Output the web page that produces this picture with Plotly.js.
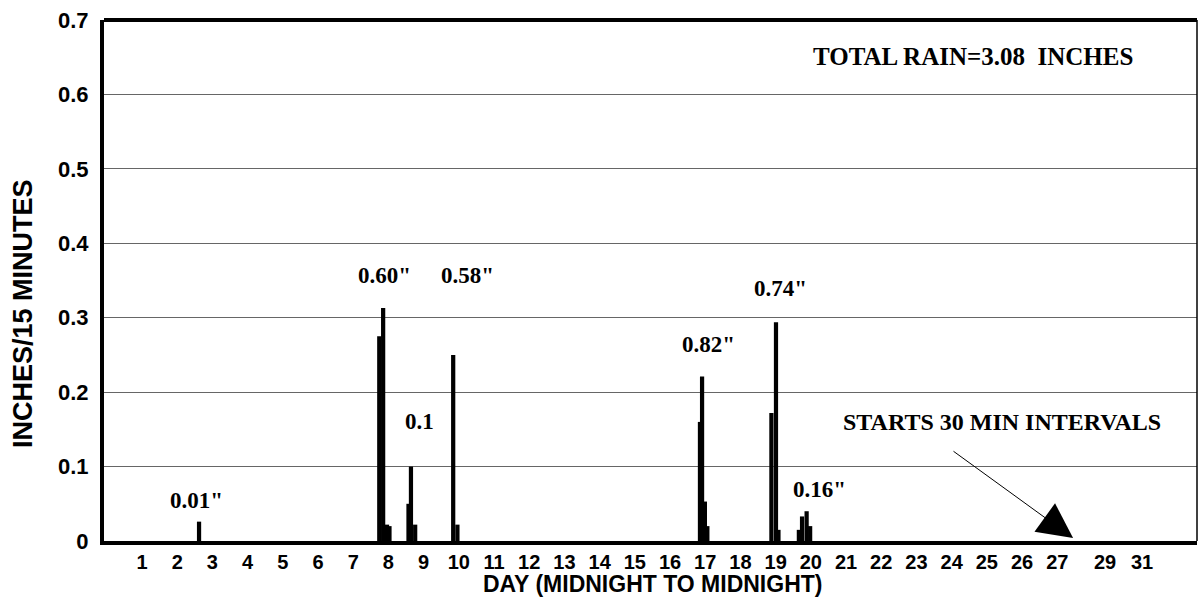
<!DOCTYPE html>
<html>
<head>
<meta charset="utf-8">
<script src="https://cdn.plot.ly/plotly-3.0.1.min.js"></script>
<style>html,body{margin:0;padding:0;background:#fff;}#chart{width:1201px;height:602px;}</style>
</head>
<body>
<div id="chart"></div>
<script>
// 15-minute rainfall readings (day of month position, inches per 15 minutes)
const barDays   = [2.62, 7.74, 7.85, 7.96, 8.03, 8.57, 8.64, 8.76, 9.84, 9.96, 16.85, 16.91, 16.99, 17.06, 18.88, 19.01, 19.08, 19.66, 19.75, 19.88, 19.98];
const barInches = [0.026, 0.275, 0.313, 0.022, 0.020, 0.050, 0.100, 0.022, 0.250, 0.022, 0.160, 0.221, 0.053, 0.020, 0.172, 0.294, 0.015, 0.015, 0.033, 0.040, 0.020];

// x-axis tick positions and labels
const tickDays   = [1,2,3,4,5,6,7,8,9,10,11,12,13,14,15,16,17,18,19,20,21,22,23,24,25,26,27,28.36,29.41];
const tickLabels = ['1','2','3','4','5','6','7','8','9','10','11','12','13','14','15','16','17','18','19','20','21','22','23','24','25','26','27','29','31'];

// storm total labels
const stormText   = ['0.01"', '0.60"', '0.58"', '0.1', '0.82"', '0.74"', '0.16"'];
const stormDay    = [2.56, 7.90, 10.26, 8.88, 17.08, 19.15, 20.26];
const stormInches = [0.055, 0.357, 0.357, 0.161, 0.264, 0.339, 0.069];

const totalText = 'TOTAL RAIN=3.08 \u00a0INCHES';
const noteText = 'STARTS 30 MIN INTERVALS';
const xTitle = 'DAY (MIDNIGHT TO MIDNIGHT)';
const yTitle = 'INCHES/15 MINUTES';

const serif = {family: 'Liberation Serif, Times New Roman, serif', size: 23, color: '#000'};
const sans = 'Liberation Sans, Arial, sans-serif';

const annotations = stormText.map((t, i) => ({
  x: stormDay[i], y: stormInches[i], xref: 'x', yref: 'y',
  text: '<b>' + t + '</b>', showarrow: false, xanchor: 'center', yanchor: 'middle',
  font: serif
}));
annotations.push({
  x: 24.6, y: 0.651, xref: 'x', yref: 'y', text: '<b>' + totalText + '</b>',
  showarrow: false, xanchor: 'center', yanchor: 'middle', font: Object.assign({}, serif, {size: 25})
});
annotations.push({
  x: 25.43, y: 0.16, xref: 'x', yref: 'y', text: '<b>' + noteText + '</b>',
  showarrow: false, xanchor: 'center', yanchor: 'middle', font: Object.assign({}, serif, {size: 24})
});
annotations.push({
  x: 27.45, y: 0.004, xref: 'x', yref: 'y', ax: 24.01, ay: 0.122, axref: 'x', ayref: 'y',
  text: '', showarrow: true, arrowhead: 2, arrowsize: 7, arrowwidth: 1, arrowcolor: '#000', standoff: 0
});
annotations.push({
  x: -0.0741, y: 0.4357, xref: 'paper', yref: 'paper', textangle: -90,
  text: '<b>' + yTitle + '</b>', showarrow: false, xanchor: 'center', yanchor: 'middle',
  font: {family: sans, size: 27, color: '#000'}
});
annotations.push({
  x: 0.5018, y: -0.0825, xref: 'paper', yref: 'paper',
  text: '<b>' + xTitle + '</b>', showarrow: false, xanchor: 'center', yanchor: 'middle',
  font: {family: sans, size: 23, color: '#000'}
});

const trace = {
  type: 'bar', x: barDays, y: barInches, width: 0.12,
  marker: {color: '#000', line: {width: 0}}, hoverinfo: 'skip'
};

const layout = {
  width: 1201, height: 602,
  margin: {l: 104, r: 4, t: 20, b: 61},
  paper_bgcolor: '#fff', plot_bgcolor: '#fff',
  showlegend: false, barmode: 'overlay',
  font: {family: sans, color: '#000'},
  xaxis: {
    range: [-0.08, 30.97], tickmode: 'array', tickvals: tickDays, ticktext: tickLabels,
    showgrid: false, zeroline: false, showline: true, linecolor: '#000', linewidth: 4,
    ticks: '', ticklabelstandoff: 0,
    tickfont: {family: sans, size: 20, color: '#000', weight: 'bold'}
  },
  yaxis: {
    range: [0, 0.7], dtick: 0.1, tick0: 0,
    showgrid: true, gridcolor: '#666', gridwidth: 1, zeroline: false,
    showline: true, linecolor: '#000', linewidth: 4, ticks: '', ticklabelstandoff: 7,
    tickfont: {family: sans, size: 22, color: '#000', weight: 'bold'}
  },
  shapes: [
    {type: 'line', xref: 'paper', yref: 'paper', x0: 0, x1: 1, y0: 1, y1: 1, line: {color: '#000', width: 4}},
    {type: 'line', xref: 'paper', yref: 'paper', x0: 1, x1: 1, y0: 0, y1: 1, line: {color: '#000', width: 1.5}}
  ],
  annotations: annotations
};

Plotly.newPlot('chart', [trace], layout, {displayModeBar: false, staticPlot: true});
</script>
</body>
</html>
